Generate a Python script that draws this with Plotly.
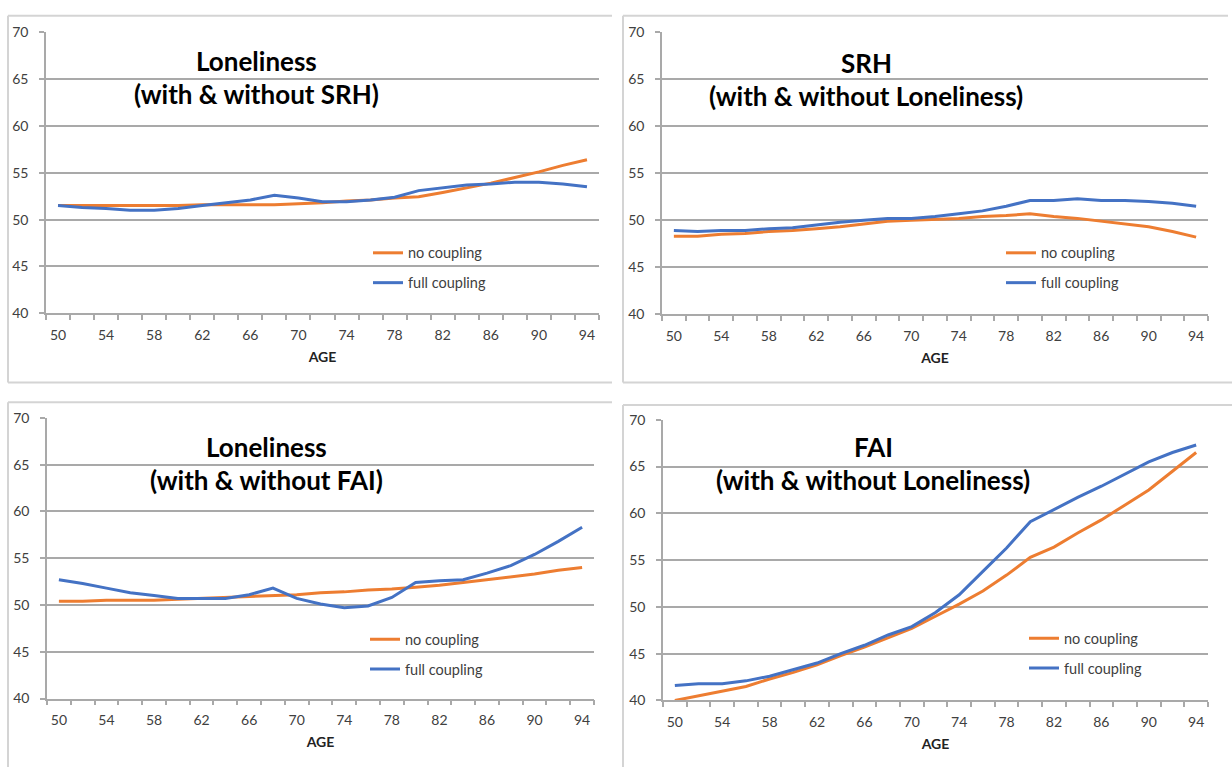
import plotly.graph_objects as go

W, H = 1232, 775

ages = [50, 52, 54, 56, 58, 60, 62, 64, 66, 68, 70, 72, 74, 76, 78, 80, 82, 84, 86, 88, 90, 92, 94]
age_labels = [50, 54, 58, 62, 66, 70, 74, 78, 82, 86, 90, 94]

lon_srh_no = [51.5, 51.5, 51.5, 51.5, 51.5, 51.5, 51.6, 51.6, 51.6, 51.6, 51.7, 51.8,
              52.0, 52.1, 52.3, 52.45, 52.9, 53.4, 53.9, 54.5, 55.1, 55.8, 56.4]
lon_srh_full = [51.5, 51.3, 51.2, 51.0, 51.0, 51.2, 51.5, 51.8, 52.1, 52.6, 52.3, 51.9,
                51.9, 52.1, 52.4, 53.1, 53.4, 53.7, 53.8, 54.0, 54.0, 53.8, 53.5]

srh_no = [48.3, 48.3, 48.5, 48.6, 48.8, 48.9, 49.1, 49.3, 49.6, 49.9, 50.0, 50.1,
          50.2, 50.4, 50.5, 50.7, 50.4, 50.2, 49.9, 49.6, 49.3, 48.8, 48.2]
srh_full = [48.9, 48.8, 48.9, 48.9, 49.1, 49.2, 49.5, 49.8, 50.0, 50.2, 50.2, 50.4,
            50.7, 51.0, 51.5, 52.1, 52.1, 52.3, 52.1, 52.1, 52.0, 51.8, 51.5]

lon_fai_no = [50.4, 50.4, 50.5, 50.5, 50.5, 50.6, 50.7, 50.8, 50.9, 51.0, 51.1, 51.3,
              51.4, 51.6, 51.7, 51.9, 52.1, 52.4, 52.7, 53.0, 53.3, 53.7, 54.0]
lon_fai_full = [52.7, 52.3, 51.8, 51.3, 51.0, 50.7, 50.7, 50.7, 51.1, 51.8, 50.7, 50.1,
                49.7, 49.9, 50.8, 52.4, 52.6, 52.7, 53.4, 54.2, 55.4, 56.8, 58.3]

fai_no = [40.0, 40.5, 41.0, 41.5, 42.3, 43.0, 43.8, 44.8, 45.7, 46.7, 47.7, 49.0,
          50.3, 51.7, 53.4, 55.3, 56.4, 57.9, 59.3, 60.9, 62.5, 64.5, 66.5]
fai_full = [41.6, 41.8, 41.8, 42.1, 42.6, 43.3, 44.0, 45.0, 45.9, 47.0, 47.9, 49.4,
            51.3, 53.8, 56.3, 59.1, 60.4, 61.7, 62.9, 64.2, 65.5, 66.5, 67.3]

titles = [("Loneliness", "(with & without SRH)"),
          ("SRH", "(with & without Loneliness)"),
          ("Loneliness", "(with & without FAI)"),
          ("FAI", "(with & without Loneliness)")]
series = [(lon_srh_no, lon_srh_full), (srh_no, srh_full),
          (lon_fai_no, lon_fai_full), (fai_no, fai_full)]

ORANGE = "#ED7D31"
BLUE = "#4472C4"
GRID = "#A9A9A9"
FRAME = "#D4D4D4"
TXT = "#404040"
FONT = "Lato"

# plot-area pixel boxes: (left, right, top(70), bottom(40))
boxes = [(46, 599, 24, 311), (662, 1208, 24, 312), (47, 594, 418, 705), (663, 1208, 420, 707)]
title_pos = [((256, 53), (256, 87)), ((866, 55), (866, 89)),
             ((266, 448), (266, 482)), ((873, 448), (873, 482))]
legend_pos = [(375, 247), (1008, 247), (372, 642), (1031, 641)]


def px(x):
    return x / W


def py(y):
    return 1 - y / H


fig = go.Figure()
layout = dict(width=W, height=H, margin=dict(l=0, r=0, t=0, b=0),
              paper_bgcolor="white", plot_bgcolor="white", showlegend=True,
              font=dict(family=FONT, size=14, color=TXT))
annotations = []
shapes = []

for i, ((no, full), (l, r, t, b)) in enumerate(zip(series, boxes)):
    k = "" if i == 0 else str(i + 1)
    leg = "legend" + k
    fig.add_trace(go.Scatter(x=ages, y=no, mode="lines", name="no coupling",
                             line=dict(color=ORANGE, width=3), xaxis="x" + k, yaxis="y" + k,
                             legend=leg, legendgroup="a" + k))
    fig.add_trace(go.Scatter(x=ages, y=full, mode="lines", name="full coupling",
                             line=dict(color=BLUE, width=3), xaxis="x" + k, yaxis="y" + k,
                             legend=leg, legendgroup="b" + k))
    layout["xaxis" + k] = dict(
        domain=[px(l), px(r)], anchor="y" + k, range=[49, 95],
        tickmode="array", tickvals=age_labels, ticks="", showgrid=False, zeroline=False,
        showline=True, linecolor=GRID, linewidth=1.5,
        tickfont=dict(family=FONT, size=14, color=TXT), ticklabelstandoff=8,
        minor=dict(tick0=49, dtick=2, ticks="outside", ticklen=5, tickcolor=GRID, tickwidth=1.5, showgrid=False),
        title=dict(text="<b>AGE</b>", font=dict(family=FONT, size=14, color="#222"), standoff=10),
    )
    layout["yaxis" + k] = dict(
        domain=[py(b), py(t)], anchor="x" + k, range=[40, 70], dtick=5,
        showgrid=True, gridcolor=GRID, gridwidth=1.8, zeroline=False,
        showline=True, linecolor=GRID, linewidth=1.5,
        ticks="outside", ticklen=5, tickcolor=GRID, tickwidth=1.5,
        tickfont=dict(family=FONT, size=14, color=TXT), ticklabelstandoff=8,
    )
    (x1, y1), (x2, y2) = title_pos[i]
    annotations.append(dict(text="<b>%s</b>" % titles[i][0], x=px(x1), y=py(y1), xref="paper", yref="paper",
                            showarrow=False, xanchor="center", yanchor="middle",
                            font=dict(family=FONT, size=26, color="black")))
    annotations.append(dict(text="<b>%s</b>" % titles[i][1], x=px(x2), y=py(y2), xref="paper", yref="paper",
                            showarrow=False, xanchor="center", yanchor="middle",
                            font=dict(family=FONT, size=26, color="black")))
    lx, ly = legend_pos[i]
    layout[leg] = dict(x=px(lx - 7), y=py(ly - 14), xanchor="left", yanchor="top",
                       bgcolor="rgba(0,0,0,0)", tracegroupgap=8,
                       font=dict(family=FONT, size=14.5, color=TXT))

frame_lines = [
    (8, 7, 8, 382), (8, 7, 612, 7), (8, 382, 612, 382),
    (623, 7, 623, 382), (623, 7, 1228, 7), (623, 382, 1232, 382),
    (8, 402, 612, 402), (8, 402, 8, 775),
    (623, 405, 1232, 405), (623, 405, 623, 775),
]
for (xa, ya, xb, yb) in frame_lines:
    shapes.append(dict(type="line", xref="paper", yref="paper", x0=px(xa), y0=py(ya), x1=px(xb), y1=py(yb),
                       line=dict(color=FRAME, width=2)))

layout["annotations"] = annotations
layout["shapes"] = shapes
fig.update_layout(**layout)
fig.write_html(
    "out.html",
    config={"displayModeBar": False},
    post_script=("document.documentElement.style.margin='0';"
                 "document.body.style.margin='0';document.body.style.overflow='hidden';"
                 "var d=document.getElementById('{plot_id}');"
                 "d.style.position='fixed';d.style.top='0px';d.style.left='0px';"),
)
